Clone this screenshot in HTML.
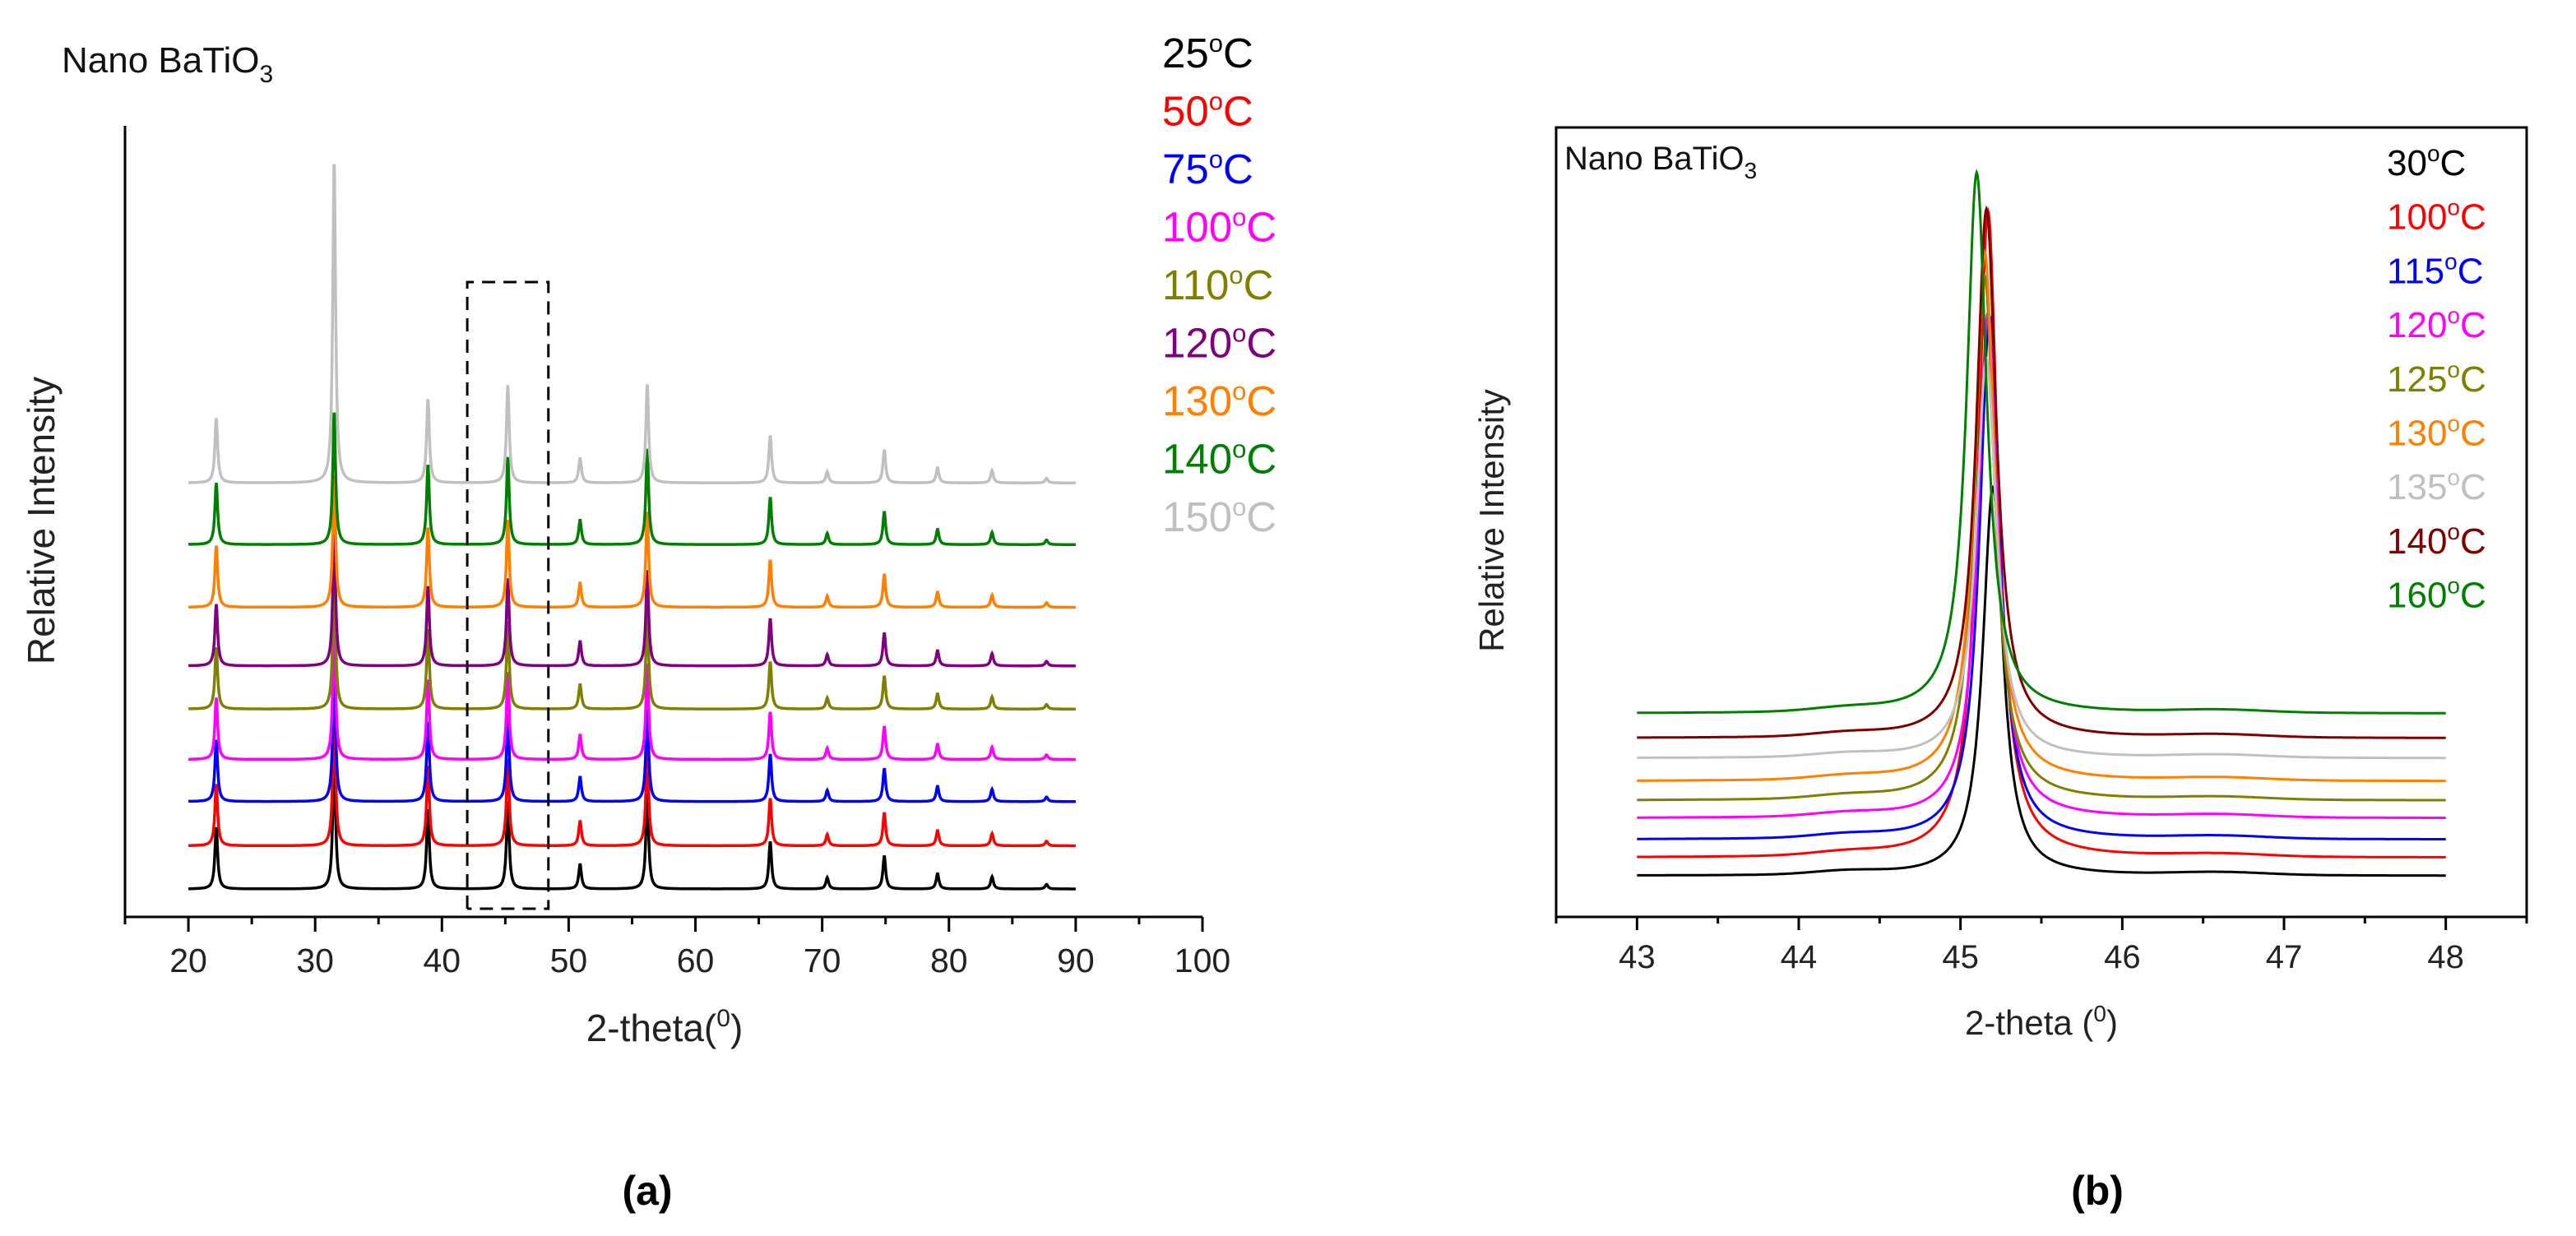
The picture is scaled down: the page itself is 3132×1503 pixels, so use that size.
<!DOCTYPE html>
<html><head><meta charset="utf-8">
<style>
html,body{margin:0;padding:0;background:#fff;}
svg{display:block;}
text{font-family:"Liberation Sans",sans-serif;}
</style></head>
<body>
<svg id="fig" width="3132" height="1503" viewBox="0 0 3132 1503" xmlns="http://www.w3.org/2000/svg">
<rect width="3132" height="1503" fill="#fff"/>
<g id="pa"></g>
<g id="pb"></g>
<text x="787" y="1465" font-family="Liberation Serif,serif" font-weight="bold" font-size="50" text-anchor="middle">(a)</text>
<text x="2550" y="1465" font-family="Liberation Serif,serif" font-weight="bold" font-size="50" text-anchor="middle">(b)</text>
</svg>
<script>
// ---------- Panel A data ----------
const aLabels = ["25","50","75","100","110","120","130","140","150"];
const aColors = ["#000000","#ff0000","#0000ff","#ff00ff","#808000","#800080","#ff8000","#008000","#c0c0c0"];
const aOffsets = [0, 4.2, 8.5, 12.6, 17.5, 21.7, 27.4, 33.5, 39.5];
const aPeakPos = [22.2, 31.5, 38.9, 45.2, 50.9, 56.2, 65.9, 70.4, 74.9, 79.1, 83.4, 87.7];
const aPeakInt = [6.0, 13, 7.8, 8.5, 2.4, 9.3, 4.6, 1.1, 3.2, 1.5, 1.2, 0.45];
const aGrayInt = [6.3, 31.6, 8.2, 9.5, 2.4, 9.6, 4.6, 1.1, 3.2, 1.5, 1.2, 0.45];
const aTicks = [20,30,40,50,60,70,80,90,100];

// ---------- Panel B data ----------
const bLabels = ["30","100","115","120","125","130","135","140","160"];
const bColors = ["#000000","#ff0000","#0000ff","#ff00ff","#808000","#ff8000","#c0c0c0","#800000","#008000"];
const bOffsets = [0, 1.54, 3.08, 4.9, 6.4, 8.04, 10.0, 11.7, 13.8];
const bCenters = [45.20, 45.17, 45.18, 45.17, 45.15, 45.15, 45.16, 45.16, 45.10];
const bHeights = [33, 55, 44.5, 43, 44.6, 45, 34, 45, 46];
const bTicks = [43,44,45,46,47,48];

const NS = "http://www.w3.org/2000/svg";
function el(tag, attrs, parent){ const e=document.createElementNS(NS,tag); for(const k in attrs) e.setAttribute(k,attrs[k]); parent.appendChild(e); return e; }

// ---------- Panel A ----------
(function(){
  const g = document.getElementById('pa');
  const X0=152, X1=1462, xmin=15, xmax=100, YB=1081, unit=12.5, AX=1115;
  const xs = v => X0 + (v-xmin)/(xmax-xmin)*(X1-X0);
  const ys = v => YB - v*unit;
  let e = el('line',{x1:X0,y1:153,x2:X0,y2:AX+1,stroke:'#000','stroke-width':3},g);
   
  e = el('line',{x1:X0,y1:AX,x2:X1,y2:AX,stroke:'#000','stroke-width':3},g);
   
  for(let v=15; v<=100; v+=5){
    const major = v%10===0;
    el('line',{x1:xs(v),y1:AX,x2:xs(v),y2:AX+(major?18:9),stroke:'#000','stroke-width':3},g);
  }
  aTicks.forEach(v=>{
    const t = el('text',{x:xs(v),y:1182,'font-size':41,'text-anchor':'middle',fill:'#222'},g);
    t.textContent=v;
     
  });
  for(let s=0;s<aLabels.length;s++){
    const ints = s===8 ? aGrayInt : aPeakInt;
    let d='';
    for(let v=20; v<=90.0001; v+=0.04){
      let y=0;
      for(let p=0;p<aPeakPos.length;p++){
        const w = 0.13; const dx=v-aPeakPos[p];
        y += ints[p]*w*w/(dx*dx+w*w);
      }
      d += (d?'L':'M')+xs(v).toFixed(1)+','+ys(y+aOffsets[s]).toFixed(1);
    }
    const path = el('path',{d:d,fill:'none',stroke:aColors[s],'stroke-width':3.5},g);
     
  }
  e = el('path',{d:`M${xs(42)},1105 L${xs(42)},343 L${xs(48.4)},343 L${xs(48.4)},1105 L${xs(42)},1105`,fill:'none',stroke:'#000','stroke-width':3,'stroke-dasharray':'16,10'},g);
   
  e = el('text',{x:75,y:88,'font-size':44,fill:'#111'},g);
  e.innerHTML = 'Nano BaTiO<tspan font-size="30" dy="12">3</tspan>';
   
  e = el('text',{x:808,y:1266,'font-size':46,'text-anchor':'middle',fill:'#222'},g);
  e.innerHTML = '2-theta(<tspan font-size="30" dy="-18">0</tspan><tspan dy="18">)</tspan>';
   
  e = el('text',{x:0,y:0,'font-size':46,'text-anchor':'middle',fill:'#222',transform:'translate(66,633) rotate(-90)'},g);
  e.textContent='Relative Intensity';
   
  aLabels.forEach((l,i)=>{
    const t = el('text',{x:1413,y:82+i*70.5,'font-size':51,fill:aColors[i]},g);
    t.innerHTML = l+'<tspan font-size="31" dy="-19">o</tspan><tspan dy="19">C</tspan>';
     
  });
})();

// ---------- Panel B ----------
(function(){
  const g = document.getElementById('pb');
  const X0=1892, X1=3072, xmin=42.5, xmax=48.5, YT=155, YB=1115, base=1065, unit=14.3;
  const xs = v => X0 + (v-xmin)/(xmax-xmin)*(X1-X0);
  const ys = v => base - v*unit;
  let e = el('rect',{x:X0,y:YT,width:X1-X0,height:YB-YT,fill:'none',stroke:'#000','stroke-width':3},g);
   
  for(let v=42.5; v<=48.5001; v+=0.5){
    const major = Math.abs(v-Math.round(v))<1e-6;
    el('line',{x1:xs(v),y1:YB,x2:xs(v),y2:YB+(major?16:8),stroke:'#000','stroke-width':3},g);
  }
  bTicks.forEach(v=>{
    const t = el('text',{x:xs(v),y:1177,'font-size':40,'text-anchor':'middle',fill:'#222'},g);
    t.textContent=v;
     
  });
  for(let s=0;s<bLabels.length;s++){
    let d='';
    for(let v=43; v<=48.0001; v+=0.005){
      const w=0.075, dx=v-bCenters[s];
      let y = bHeights[s]*w*w/(dx*dx+w*w);
      y += 0.3*Math.exp(-Math.pow((v-44.3)/0.3,2)) + 0.25*Math.exp(-Math.pow((v-46.6)/0.4,2));
      d += (d?'L':'M')+xs(v).toFixed(1)+','+ys(y+bOffsets[s]).toFixed(1);
    }
    const path = el('path',{d:d,fill:'none',stroke:bColors[s],'stroke-width':3},g);
     
  }
  e = el('text',{x:1902,y:206,'font-size':40,fill:'#111'},g);
  e.innerHTML = 'Nano BaTiO<tspan font-size="28" dy="11">3</tspan>';
   
  e = el('text',{x:2482,y:1258,'font-size':42,'text-anchor':'middle',fill:'#222'},g);
  e.innerHTML = '2-theta (<tspan font-size="28" dy="-16">0</tspan><tspan dy="16">)</tspan>';
   
  e = el('text',{x:0,y:0,'font-size':42,'text-anchor':'middle',fill:'#222',transform:'translate(1828,633) rotate(-90)'},g);
  e.textContent='Relative Intensity';
   
  bLabels.forEach((l,i)=>{
    const t = el('text',{x:2902,y:213+i*65.7,'font-size':44,fill:bColors[i]},g);
    t.innerHTML = l+'<tspan font-size="28" dy="-17">o</tspan><tspan dy="17">C</tspan>';
     
  });
})();
</script>
</body></html>
